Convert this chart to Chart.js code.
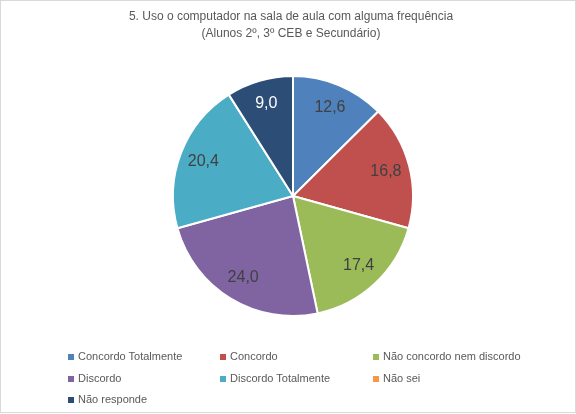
<!DOCTYPE html>
<html>
<head>
<meta charset="utf-8">
<script src="https://cdn.jsdelivr.net/npm/chart.js@4"></script>
<style>
  body { margin: 0; background: #fff; }
  #wrap { position: relative; width: 576px; height: 414px; }
  #frame { position: absolute; left: 0; top: 0; width: 574px; height: 411px; border: 1px solid #d9d9d9; }
  canvas { position: absolute; left: 0; top: 0; }
  .leg { position: absolute; font-family: "Liberation Sans", Arial, sans-serif; font-size: 11px; color: #595959; white-space: nowrap; }
  .leg span { position: absolute; left: -10px; top: 4px; width: 6px; height: 6px; }
</style>
</head>
<body>
<div id="wrap">
  <div id="frame"></div>
  <canvas id="grafico" width="576" height="414"></canvas>
  <div id="legenda"></div>
</div>
<script>
const categorias = ["Concordo Totalmente", "Concordo", "Não concordo nem discordo", "Discordo", "Discordo Totalmente", "Não sei", "Não responde"];
const valores = [12.6, 16.8, 17.4, 24.0, 20.4, 0, 9.0];
const cores = ["#4f81bd", "#c0504d", "#9bbb59", "#8064a2", "#4bacc6", "#f79646", "#2c4d75"];
const corRotulo = ["#404040", "#404040", "#404040", "#404040", "#404040", "#404040", "#ffffff"];
const titulo = ["5. Uso o computador na sala de aula com alguma frequência", "(Alunos 2º, 3º CEB e Secundário)"];

// rotulos dentro das fatias (virgula decimal)
const rotulosPlugin = {
  id: 'rotulos',
  afterDatasetsDraw(chart) {
    const ctx = chart.ctx;
    const meta = chart.getDatasetMeta(0);
    ctx.save();
    ctx.font = '16px "Liberation Sans", Arial, sans-serif';
    ctx.textAlign = 'center';
    ctx.textBaseline = 'middle';
    meta.data.forEach(function(arc, i) {
      if (!valores[i]) return;
      const p = arc.getProps(['x', 'y', 'startAngle', 'endAngle', 'outerRadius']);
      const meio = (p.startAngle + p.endAngle) / 2;
      const r = p.outerRadius * 0.8;
      ctx.fillStyle = corRotulo[i];
      ctx.fillText(valores[i].toFixed(1).replace('.', ','), p.x + Math.cos(meio) * r, p.y + Math.sin(meio) * r);
    });
    ctx.restore();
  }
};

new Chart(document.getElementById("grafico"), {
  type: 'pie',
  data: {
    labels: categorias,
    datasets: [{
      data: valores,
      backgroundColor: cores,
      borderColor: "#ffffff",
      borderWidth: 2,
      hoverOffset: 0
    }]
  },
  options: {
    responsive: false,
    animation: false,
    layout: { padding: { left: 172, right: 162, top: 75, bottom: 97 } },
    plugins: {
      legend: { display: false },
      tooltip: { enabled: false },
      title: { display: false }
    }
  },
  plugins: [rotulosPlugin, {
    id: 'titulo',
    afterDraw(chart) {
      const ctx = chart.ctx;
      ctx.save();
      ctx.font = '12px "Liberation Sans", Arial, sans-serif';
      ctx.fillStyle = '#595959';
      ctx.textAlign = 'center';
      ctx.textBaseline = 'middle';
      titulo.forEach(function(linha, i) {
        ctx.fillText(linha, 291, 17 + i * 17);
      });
      ctx.restore();
    }
  }]
});

// legenda em grelha de 3 colunas
const legenda = document.getElementById("legenda");
const colunas = [78, 230, 383];
const linhas = [350, 372, 393];
categorias.forEach(function(nome, i) {
  const d = document.createElement("div");
  d.className = "leg";
  d.style.left = colunas[i % 3] + "px";
  d.style.top = linhas[Math.floor(i / 3)] + "px";
  d.innerHTML = '<span style="background:' + cores[i] + '"></span>' + nome;
  legenda.appendChild(d);
});
</script>
</body>
</html>
